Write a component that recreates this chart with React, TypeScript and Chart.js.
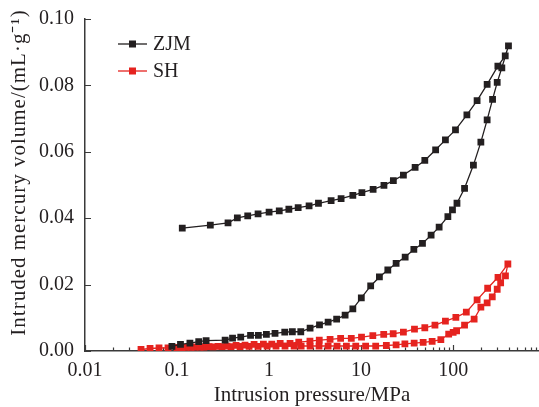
import React, { useEffect, useRef } from 'react';
import { Chart, registerables } from 'chart.js';

Chart.register(...registerables);

// ---------- data ----------
const seriesNames = ['ZJM', 'SH'];
const seriesColors = ['#231f20', '#e5231f'];

// ZJM: intrusion (rising pressure) followed by extrusion (falling pressure)
const zjmPressure = [
  0.088, 0.109, 0.138, 0.172, 0.207, 0.333, 0.401, 0.492, 0.629, 0.765, 0.935, 1.16, 1.48, 1.79, 2.21, 2.79,
  3.53, 4.38, 5.42, 6.7, 8.13, 10.05, 12.7, 15.8, 19.5, 24.0, 30.1, 37.4, 46.4, 57.6, 70.4, 87.6, 98.3, 110,
  133, 166, 200, 234, 268, 301, 338, 399,
  368, 306, 234, 182, 141, 106, 82.4, 64.5, 49.2, 38.6, 28.8, 22.4, 17.7, 13.5, 10.2, 8.13, 6.06, 4.72, 3.44,
  2.72, 2.07, 1.64, 1.29, 1.0, 0.759, 0.586, 0.452, 0.358, 0.23, 0.114,
];
const zjmVolume = [
  0.0014, 0.002, 0.0024, 0.0028, 0.0031, 0.0033, 0.0039, 0.0042, 0.0047, 0.0047, 0.005, 0.0053, 0.0057, 0.0058,
  0.0058, 0.0069, 0.0079, 0.0087, 0.0096, 0.0108, 0.0127, 0.016, 0.0196, 0.0223, 0.0244, 0.0264, 0.0283, 0.0306,
  0.0324, 0.0349, 0.0373, 0.0405, 0.0425, 0.0445, 0.049, 0.056, 0.0629, 0.0696, 0.0758, 0.0809, 0.0853, 0.0919,
  0.0889, 0.0858, 0.0803, 0.0754, 0.0711, 0.0666, 0.0636, 0.0606, 0.0574, 0.0553, 0.053, 0.0513, 0.0499, 0.0487,
  0.0477, 0.0469, 0.0459, 0.0453, 0.0445, 0.0437, 0.0432, 0.0427, 0.0422, 0.0418, 0.0413, 0.0407, 0.0401, 0.0386,
  0.0379, 0.037,
];

// SH: intrusion followed by extrusion
const shPressure = [
  0.0406, 0.0509, 0.0637, 0.0798, 0.1, 0.125, 0.157, 0.196, 0.246, 0.308, 0.386, 0.484, 0.606, 0.759, 0.952,
  1.19, 1.49, 1.87, 2.23, 2.79, 3.49, 4.38, 5.48, 6.92, 8.75, 11.2, 14.4, 18.8, 24.0, 29.9, 37.7, 47.2, 59.1,
  73.5, 89.4, 100, 109, 133, 169, 200, 234, 266, 301, 328, 370, 393,
  307, 237, 182, 139, 107, 82.4, 63.4, 49.2, 38.0, 28.8, 22.3, 17.6, 13.4, 10.1, 7.82, 5.99, 4.6, 3.51, 2.78,
  2.1, 1.69, 1.32, 1.07, 0.867, 0.687, 0.548, 0.438, 0.349, 0.279, 0.223, 0.178, 0.142, 0.113,
];
const shVolume = [
  0.00045, 0.00075, 0.0009, 0.00096, 0.00105, 0.0011, 0.0012, 0.0012, 0.00127, 0.0013, 0.00134, 0.00136, 0.0014,
  0.00142, 0.00145, 0.00145, 0.00146, 0.0015, 0.0015, 0.0015, 0.0015, 0.0015, 0.0015, 0.0015, 0.0015, 0.0015,
  0.0015, 0.00166, 0.00187, 0.00217, 0.0024, 0.0026, 0.0029, 0.0034, 0.0051, 0.0056, 0.0061, 0.0078, 0.0096,
  0.0132, 0.0145, 0.0163, 0.0186, 0.0205, 0.0226, 0.0262,
  0.0222, 0.0189, 0.0154, 0.0117, 0.0101, 0.009, 0.0078, 0.007, 0.0066, 0.0057, 0.0052, 0.005, 0.0046, 0.0042,
  0.0038, 0.0038, 0.0035, 0.0033, 0.003, 0.0027, 0.0023, 0.0023, 0.0021, 0.0021, 0.002, 0.0018, 0.0017, 0.0015,
  0.0014, 0.0013, 0.0012, 0.0011, 0.001,
];

const xTickLabels = ['0.01', '0.1', '1', '10', '100'];
const yTickValues = [0, 0.02, 0.04, 0.06, 0.08, 0.1];
const xTitle = 'Intrusion pressure/MPa';
const yTitle = 'Intruded mercury volume/(mL·g⁻¹)';

const FONT = "'Liberation Serif', 'Times New Roman', serif";
const AXIS_COLOR = '#3a3a3a';
const TEXT_COLOR = '#231f20';

// The original figure's log axis runs to 1000 but is cut at the image edge.
const CANVAS_W = 550;
const VIEW_W = 539;
const VIEW_H = 407;

const inwardTicks = {
  id: 'inwardTicks',
  beforeDatasetsDraw(chart: any) {
    const { ctx, scales, chartArea } = chart;
    const xs = scales.x;
    const ys = scales.y;
    ctx.save();
    ctx.strokeStyle = AXIS_COLOR;
    ctx.lineWidth = 1.2;
    ctx.beginPath();
    for (let e = -2; e <= 2; e++) {
      for (let m = 1; m <= 9; m++) {
        const v = m * Math.pow(10, e);
        if (v > xs.max) continue;
        const px = Math.round(xs.getPixelForValue(v)) + 0.5;
        const len = m === 1 ? 6 : 3.5;
        ctx.moveTo(px, chartArea.bottom);
        ctx.lineTo(px, chartArea.bottom - len);
      }
    }
    yTickValues.forEach((v) => {
      const py = Math.round(ys.getPixelForValue(v)) + 0.5;
      ctx.moveTo(chartArea.left, py);
      ctx.lineTo(chartArea.left + 6, py);
    });
    ctx.stroke();
    ctx.restore();
  },
};

const lineLegend = {
  id: 'lineLegend',
  afterDatasetsDraw(chart: any) {
    const { ctx } = chart;
    ctx.save();
    chart.data.datasets.forEach((ds: any, i: number) => {
      const y = 44 + i * 27;
      ctx.strokeStyle = ds.borderColor;
      ctx.lineWidth = 1.3;
      ctx.beginPath();
      ctx.moveTo(118, y);
      ctx.lineTo(147, y);
      ctx.stroke();
      ctx.fillStyle = ds.backgroundColor;
      ctx.fillRect(129, y - 3.5, 7, 7);
      ctx.fillStyle = TEXT_COLOR;
      ctx.font = `20px ${FONT}`;
      ctx.textBaseline = 'middle';
      ctx.textAlign = 'left';
      ctx.fillText(ds.label, 153, y + 1);
    });
    ctx.restore();
  },
};

const yTitlePlugin = {
  id: 'yTitlePlugin',
  afterDraw(chart: any) {
    const { ctx } = chart;
    ctx.save();
    ctx.translate(25, 172.5);
    ctx.rotate(-Math.PI / 2);
    ctx.font = `21px ${FONT}`;
    try {
      (ctx as any).letterSpacing = '1px';
    } catch (e) {
      /* ignore */
    }
    ctx.fillStyle = TEXT_COLOR;
    ctx.textAlign = 'center';
    ctx.textBaseline = 'alphabetic';
    ctx.fillText(yTitle, 0, 0);
    ctx.restore();
  },
};

const xTitlePlugin = {
  id: 'xTitlePlugin',
  afterDraw(chart: any) {
    const { ctx } = chart;
    ctx.save();
    ctx.font = `21px ${FONT}`;
    ctx.fillStyle = TEXT_COLOR;
    ctx.textAlign = 'center';
    ctx.textBaseline = 'alphabetic';
    ctx.fillText(xTitle, 312, 401);
    ctx.restore();
  },
};

export default function App() {
  const ref = useRef<HTMLCanvasElement>(null);

  useEffect(() => {
    const pressures = [zjmPressure, shPressure];
    const volumes = [zjmVolume, shVolume];
    const chart = new Chart(ref.current as HTMLCanvasElement, {
      type: 'scatter',
      data: {
        datasets: seriesNames.map((name, i) => ({
          label: name,
          data: pressures[i].map((p, j) => ({ x: p, y: volumes[i][j] })),
          showLine: true,
          borderColor: seriesColors[i],
          backgroundColor: seriesColors[i],
          borderWidth: 1.3,
          pointStyle: 'rect',
          pointRadius: 4.8,
          pointBorderWidth: 0,
          pointHoverRadius: 4.8,
          tension: 0,
        })),
      },
      options: {
        responsive: false,
        animation: false,
        layout: { padding: { top: 19, right: 0, left: 0, bottom: 0 } },
        plugins: { legend: { display: false }, tooltip: { enabled: false } },
        scales: {
          x: {
            type: 'logarithmic',
            min: 0.01,
            max: 1000,
            grid: { display: false, drawTicks: false },
            border: { display: true, color: AXIS_COLOR, width: 1.5 },
            ticks: {
              autoSkip: false,
              maxRotation: 0,
              padding: 8,
              color: TEXT_COLOR,
              font: { family: FONT, size: 20 },
              callback: (v: any) => {
                const lg = Math.log10(Number(v));
                const e = Math.round(lg);
                if (Math.abs(lg - e) < 1e-6 && e >= -2 && e <= 2) return xTickLabels[e + 2];
                return '';
              },
            },
            title: { display: false },
            afterFit: (s: any) => {
              s.height = 56;
              s.paddingLeft = 0;
              s.paddingRight = 0;
            },
          },
          y: {
            min: 0,
            max: 0.1,
            grid: { display: false, drawTicks: false },
            border: { display: true, color: AXIS_COLOR, width: 1.5 },
            afterBuildTicks: (s: any) => {
              s.ticks = yTickValues.map((v) => ({ value: v }));
            },
            ticks: {
              padding: 11,
              color: TEXT_COLOR,
              font: { family: FONT, size: 20 },
              callback: (v: any) => Number(v).toFixed(2),
            },
            title: { display: false },
            afterFit: (s: any) => {
              s.width = 85;
              s.paddingTop = 0;
              s.paddingBottom = 0;
            },
          },
        },
      },
      plugins: [inwardTicks, lineLegend, yTitlePlugin, xTitlePlugin],
    } as any);
    return () => chart.destroy();
  }, []);

  return (
    <div
      style={{
        position: 'fixed',
        left: 0,
        top: 0,
        width: VIEW_W,
        height: VIEW_H,
        overflow: 'hidden',
        background: '#fff',
      }}
    >
      <canvas
        ref={ref}
        width={CANVAS_W}
        height={VIEW_H}
        style={{ width: CANVAS_W, height: VIEW_H, display: 'block' }}
      />
    </div>
  );
}
